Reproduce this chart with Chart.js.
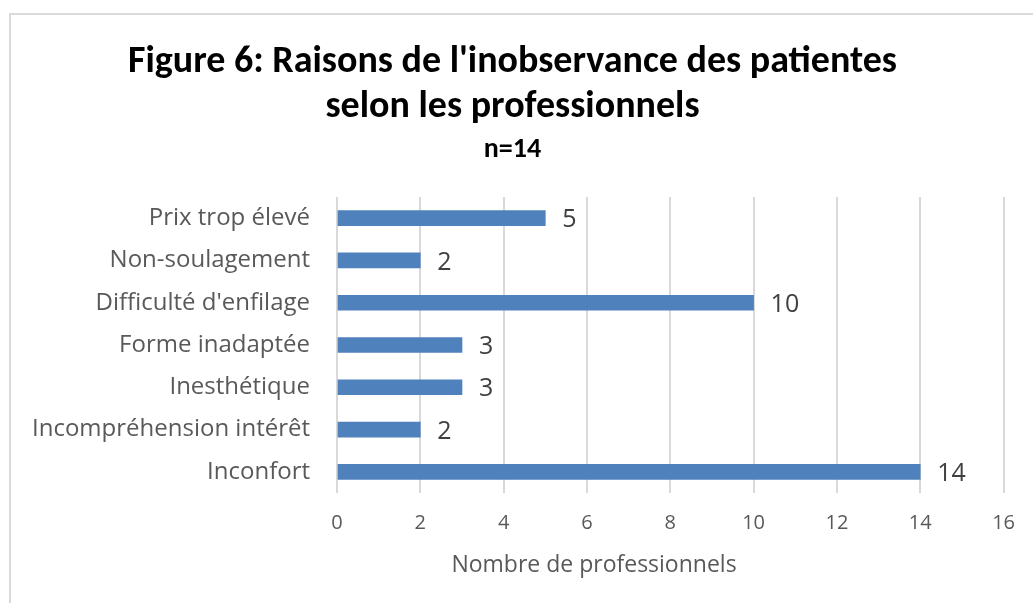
<!DOCTYPE html>
<html>
<head>
<meta charset="utf-8">
<script src="https://cdn.jsdelivr.net/npm/chart.js@4/dist/chart.umd.min.js"></script>
<style>
  html, body { margin: 0; padding: 0; background: #fff; }
  #wrap { position: relative; width: 1033px; height: 603px; overflow: hidden; }
  #frame {
    position: absolute; left: 9px; top: 13px; width: 1100px; height: 700px;
    border-left: 2px solid #d9d9d9; border-top: 2px solid #d9d9d9;
  }
  canvas { position: absolute; left: 0; top: 0; }
</style>
</head>
<body>
<div id="wrap">
  <div id="frame"></div>
  <canvas id="chart" width="1033" height="603"></canvas>
</div>
<script>
const categories = [
  "Prix trop élevé",
  "Non-soulagement",
  "Difficulté d'enfilage",
  "Forme inadaptée",
  "Inesthétique",
  "Incompréhension intérêt",
  "Inconfort"
]
const counts = [5, 2, 10, 3, 3, 2, 14]
const titleLines = ["Figure 6: Raisons de l'inobservance des patientes", "selon les professionnels"]
const subtitleText = "n=14"
const axisTitle = "Nombre de professionnels"

const titleFont = "Carlito, Lato, sans-serif"
const bodyFont = "'Open Sans', sans-serif"

// value labels just right of each bar end
const valueLabels = {
  id: "valueLabels",
  afterDatasetsDraw(chart) {
    const ctx = chart.ctx
    const meta = chart.getDatasetMeta(0)
    ctx.save()
    ctx.font = `25px ${bodyFont}`
    ctx.fillStyle = "#404040"
    ctx.textAlign = "left"
    ctx.textBaseline = "middle"
    meta.data.forEach((bar, i) => {
      ctx.fillText(String(counts[i]), bar.x + 17, bar.y + 2)
    })
    ctx.restore()
  }
}

// axis title sits off-centre in the original, so draw it by hand
const xAxisTitle = {
  id: "xAxisTitle",
  afterDraw(chart) {
    const ctx = chart.ctx
    ctx.save()
    ctx.font = `23px ${bodyFont}`
    ctx.fillStyle = "#595959"
    ctx.textAlign = "center"
    ctx.textBaseline = "middle"
    ctx.fillText(axisTitle, 594, 565)
    ctx.restore()
  }
}

new Chart(document.getElementById("chart"), {
  type: "bar",
  data: {
    labels: categories,
    datasets: [
      {
        data: counts,
        backgroundColor: "#4f81bd",
        borderWidth: 0,
        barThickness: 15
      }
    ]
  },
  options: {
    indexAxis: "y",
    responsive: false,
    animation: false,
    layout: {
      padding: { left: 20, right: 28, top: 0, bottom: 0 }
    },
    plugins: {
      legend: { display: false },
      tooltip: { enabled: false },
      title: {
        display: true,
        text: titleLines,
        color: "#000",
        font: { family: titleFont, size: 38, weight: "bold", lineHeight: "45px" },
        padding: { top: 40, bottom: 0 }
      },
      subtitle: {
        display: true,
        text: subtitleText,
        color: "#000",
        font: { family: titleFont, size: 28, weight: "bold", lineHeight: "34px" },
        padding: { top: 3, bottom: 30 }
      }
    },
    scales: {
      x: {
        min: 0,
        max: 16,
        ticks: {
          stepSize: 2,
          color: "#595959",
          font: { family: bodyFont, size: 20 },
          padding: 18
        },
        grid: {
          color: "#d9d9d9",
          lineWidth: 2,
          drawTicks: false
        },
        border: { display: false },
        afterFit: scale => { scale.height = 110 }
      },
      y: {
        ticks: {
          color: "#595959",
          font: { family: bodyFont, size: 24 },
          padding: 27
        },
        grid: { display: false, drawTicks: false },
        border: { display: false },
        afterFit: scale => { scale.width = 317 }
      }
    }
  },
  plugins: [valueLabels, xAxisTitle]
})
</script>
</body>
</html>
